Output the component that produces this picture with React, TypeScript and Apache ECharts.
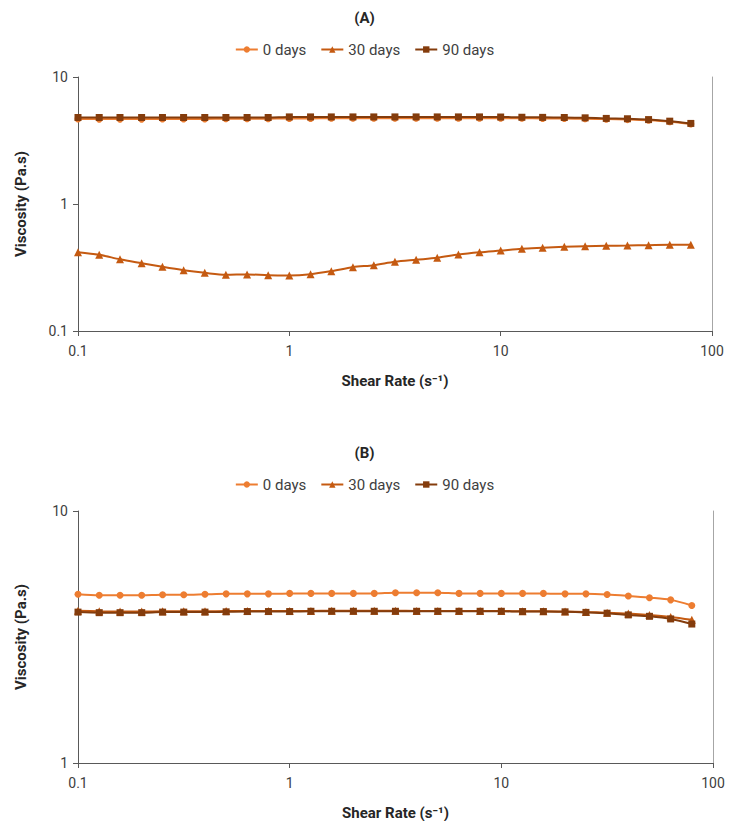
import React, { useEffect, useRef } from "react";
import * as echarts from "echarts";

const shearRate = [0.1, 0.126, 0.158, 0.2, 0.251, 0.316, 0.398, 0.501, 0.631, 0.794, 1, 1.26, 1.58, 2, 2.51, 3.16, 3.98, 5.01, 6.31, 7.94, 10, 12.6, 15.8, 20, 25.1, 31.6, 39.8, 50.1, 63.1, 79.4];

const seriesNames = ["0 days", "30 days", "90 days"];

const a0days = [4.68, 4.66, 4.66, 4.66, 4.67, 4.67, 4.68, 4.69, 4.69, 4.7, 4.72, 4.72, 4.73, 4.73, 4.73, 4.74, 4.74, 4.74, 4.74, 4.74, 4.73, 4.73, 4.72, 4.71, 4.69, 4.66, 4.62, 4.56, 4.45, 4.27];
const a30days = [0.417, 0.398, 0.367, 0.342, 0.32, 0.301, 0.287, 0.277, 0.279, 0.275, 0.274, 0.28, 0.296, 0.318, 0.33, 0.351, 0.364, 0.377, 0.4, 0.417, 0.43, 0.444, 0.452, 0.46, 0.465, 0.469, 0.471, 0.474, 0.477, 0.477];
const a90days = [4.8, 4.8, 4.8, 4.8, 4.8, 4.8, 4.8, 4.8, 4.8, 4.8, 4.85, 4.85, 4.85, 4.85, 4.85, 4.85, 4.85, 4.85, 4.85, 4.85, 4.84, 4.82, 4.81, 4.8, 4.77, 4.72, 4.69, 4.62, 4.49, 4.31];

const b0days = [4.67, 4.63, 4.63, 4.63, 4.65, 4.65, 4.67, 4.69, 4.69, 4.69, 4.71, 4.71, 4.71, 4.71, 4.71, 4.74, 4.74, 4.74, 4.71, 4.71, 4.71, 4.71, 4.71, 4.69, 4.69, 4.66, 4.6, 4.53, 4.44, 4.22];
const b30days = [4.02, 4.0, 3.99, 3.99, 4.0, 4.0, 4.0, 4.01, 4.01, 4.01, 4.01, 4.01, 4.02, 4.02, 4.02, 4.02, 4.01, 4.01, 4.01, 4.01, 4.01, 4.0, 4.0, 3.99, 3.97, 3.95, 3.92, 3.87, 3.8, 3.7];
const b90days = [3.97, 3.95, 3.95, 3.95, 3.97, 3.97, 3.97, 3.98, 3.99, 3.99, 3.99, 4.0, 4.0, 4.0, 4.0, 4.0, 4.0, 4.0, 4.0, 4.0, 4.0, 3.99, 3.99, 3.98, 3.96, 3.93, 3.87, 3.82, 3.73, 3.56];

const colors = ["#ED7D31", "#C55A11", "#843C0C"];
const symbols = ["circle", "triangle", "rect"];
const symbolSizes = [7, 8, 7];

const FONT = "Roboto, 'Noto Sans', sans-serif";

function pair(xs: number[], ys: number[]) {
  return xs.map((x, i) => [x, ys[i]]);
}

export default function App() {
  const ref = useRef<HTMLDivElement>(null);
  useEffect(() => {
    document.body.style.margin = "0";
    if (!ref.current) return;
    const chart = echarts.init(ref.current, null, { renderer: "svg" });

    const fmt = (v: number) => (v < 1 ? v.toFixed(1) : String(Math.round(v)));

    const xAxisBase = (gridIndex: number) => ({
      type: "log",
      gridIndex,
      logBase: 10,
      min: 0.1,
      max: 100,
      name: "Shear Rate (s⁻¹)",
      nameLocation: "middle",
      nameGap: 42,
      nameTextStyle: { fontFamily: FONT, fontSize: 15, fontWeight: "bold", color: "#262626" },
      axisLine: { show: true, onZero: false, lineStyle: { color: "#595959", width: 1 } },
      axisTick: { show: true, length: 5, lineStyle: { color: "#595959" } },
      axisLabel: { fontFamily: FONT, fontSize: 14, color: "#404040", margin: 13, formatter: fmt },
      splitLine: { show: false },
      minorTick: { show: false },
    });

    const yAxisBase = (gridIndex: number, min: number, max: number) => ({
      type: "log",
      gridIndex,
      logBase: 10,
      min,
      max,
      name: "Viscosity (Pa.s)",
      nameLocation: "middle",
      nameGap: 50,
      nameTextStyle: { fontFamily: FONT, fontSize: 15, fontWeight: "bold", color: "#262626" },
      axisLine: { show: true, onZero: false, lineStyle: { color: "#595959", width: 1 } },
      axisTick: { show: true, length: 5, lineStyle: { color: "#595959" } },
      axisLabel: { fontFamily: FONT, fontSize: 14, color: "#404040", margin: 10, formatter: fmt },
      splitLine: { show: false },
    });

    const rightAxis = (gridIndex: number, min: number, max: number) => ({
      type: "log",
      gridIndex,
      logBase: 10,
      min,
      max,
      position: "right",
      axisLine: { show: true, onZero: false, lineStyle: { color: "#A6A6A6", width: 1 } },
      axisTick: { show: false },
      axisLabel: { show: false },
      splitLine: { show: false },
    });

    const mk = (name: string, i: number, data: number[], grid: number) => ({
      name,
      type: "line",
      xAxisIndex: grid,
      yAxisIndex: grid === 0 ? 0 : 2,
      data: pair(shearRate, data),
      smooth: 0.3,
      symbol: symbols[i],
      symbolSize: symbolSizes[i],
      showSymbol: true,
      color: colors[i],
      lineStyle: { width: 2, color: colors[i] },
      itemStyle: { color: colors[i] },
      z: 2 + i,
    });

    const legendBase = (top: number) => ({
      top,
      left: "center",
      data: seriesNames,
      itemWidth: 22,
      itemHeight: 8,
      itemGap: 14,
      textStyle: { fontFamily: FONT, fontSize: 15, color: "#404040" },
    });

    chart.setOption({
      animation: false,
      backgroundColor: "#ffffff",
      title: [
        { text: "(A)", left: "center", top: 5, textStyle: { fontFamily: FONT, fontSize: 15, fontWeight: "bold", color: "#262626" } },
        { text: "(B)", left: "center", top: 440, textStyle: { fontFamily: FONT, fontSize: 15, fontWeight: "bold", color: "#262626" } },
      ],
      legend: [legendBase(37), legendBase(472)],
      grid: [
        { left: 78, right: 17, top: 77, height: 254 },
        { left: 78, right: 16, top: 511, height: 254 },
      ],
      xAxis: [xAxisBase(0), xAxisBase(1)],
      yAxis: [yAxisBase(0, 0.1, 10), rightAxis(0, 0.1, 10), yAxisBase(1, 1, 10), rightAxis(1, 1, 10)],
      series: [
        mk(seriesNames[0], 0, a0days, 0),
        mk(seriesNames[1], 1, a30days, 0),
        mk(seriesNames[2], 2, a90days, 0),
        mk(seriesNames[0], 0, b0days, 1),
        mk(seriesNames[1], 1, b30days, 1),
        mk(seriesNames[2], 2, b90days, 1),
      ],
    });
    return () => chart.dispose();
  }, []);
  return <div ref={ref} style={{ width: 729, height: 821 }} />;
}
